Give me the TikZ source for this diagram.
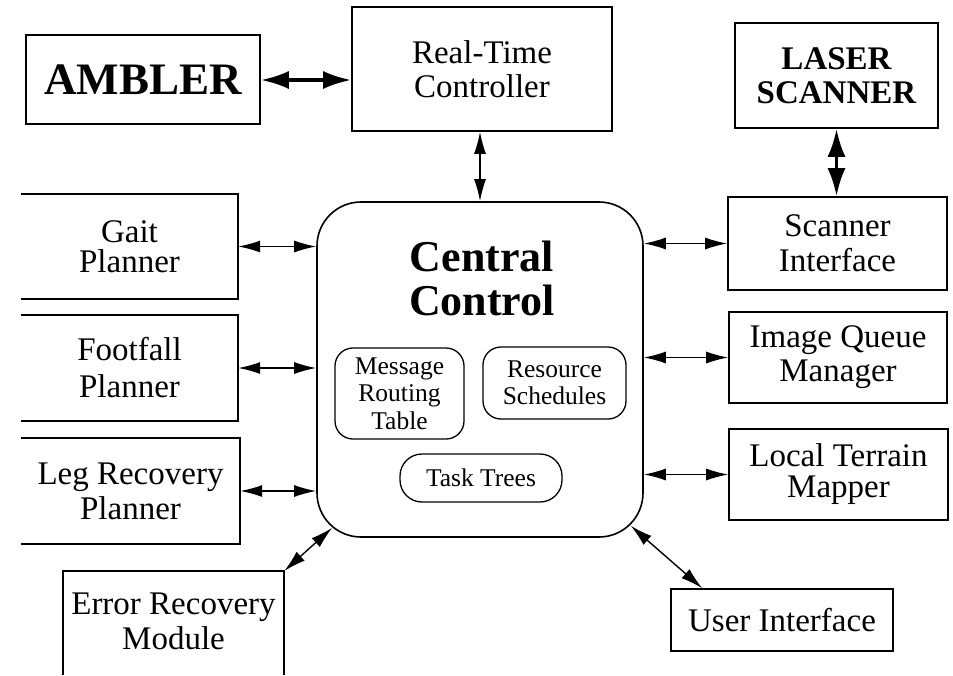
\documentclass[tikz,border=0pt]{standalone}
\usepackage{fontspec}
\setmainfont{Liberation Serif}
\usetikzlibrary{arrows.meta,calc}
\begin{document}
\begin{tikzpicture}[x=1pt,y=-1pt,
  box/.style={draw, line width=1.6pt, inner sep=0pt, align=center,
    font=\fontsize{33}{34}\selectfont},
  openbox/.style={inner sep=0pt, align=center, font=\fontsize{33}{34}\selectfont},
  boldbox/.style={box, font=\fontsize{33}{34}\selectfont\bfseries},
  inbox/.style={draw, line width=1.3pt, rounded corners=18pt, inner sep=0pt,
    align=center, font=\fontsize{25.5}{27.5}\selectfont},
  edge/.style={line width=1.6pt},
  link/.style={line width=1.4pt, {Latex[length=22pt,width=12pt]}-{Latex[length=22pt,width=12pt]}},
  biglink/.style={line width=3.4pt, {Latex[length=28pt,width=18pt]}-{Latex[length=28pt,width=18pt]}}
]
\useasboundingbox (0,0) rectangle (953,675);

% top row
\node[boldbox, font=\fontsize{45}{45}\selectfont\bfseries, minimum width=234pt, minimum height=89pt] (ambler) at (143,79.5) {AMBLER};
\node[box, minimum width=260pt, minimum height=124pt] (rtc) at (482,69) {Real-Time\\Controller};
\node[boldbox, minimum width=203pt, minimum height=105pt] (laser) at (836.5,75.5) {LASER\\SCANNER};

% central control
\node[draw, line width=1.6pt, rounded corners=44pt, minimum width=326pt, minimum height=335pt, inner sep=0pt] (cc) at (480,369.5) {};
\node[inner sep=0pt, align=center, font=\fontsize{44}{44}\selectfont\bfseries] (cctitle) at (482,278) {Central\\Control};
\node[inbox, minimum width=129pt, minimum height=91pt] (mrt) at (399.5,393.5) {Message\\Routing\\Table};
\node[inbox, minimum width=143pt, minimum height=72pt] (rs) at (554.5,383) {Resource\\Schedules};
\node[inbox, rounded corners=22pt, minimum width=162pt, minimum height=48pt] (tt) at (481,478) {Task Trees};

% left column (open on the left)
\node[openbox, minimum width=217pt, minimum height=105pt, font=\fontsize{33}{30}\selectfont] (gait) at (129.5,246.5) {Gait\\Planner};
\node[openbox, minimum width=217pt, minimum height=106pt, font=\fontsize{33}{37}\selectfont] (foot) at (129.5,368) {Footfall\\Planner};
\node[openbox, minimum width=219pt, minimum height=106pt, font=\fontsize{33}{35}\selectfont] (leg) at (130.5,491) {Leg Recovery\\Planner};
\node[openbox, minimum width=221pt, minimum height=104pt, font=\fontsize{33}{35}\selectfont] (err) at (173.5,621) {Error Recovery\\Module};
\foreach \n in {gait,foot,leg}
  \draw[edge] (\n.north west) -- (\n.north east) -- (\n.south east) -- (\n.south west);
\draw[edge] (err.north west |- 0,675) -- (err.north west |- 0,571) -- (err.north east |- 0,571) -- (err.north east |- 0,675);
\coordinate (errc) at (err.north east |- 0,571);

% right column
\node[box, minimum width=219pt, minimum height=93pt, font=\fontsize{33}{35}\selectfont] (si) at (837.5,243.5) {Scanner\\Interface};
\node[box, minimum width=218pt, minimum height=91pt] (iqm) at (838,357.5) {Image Queue\\Manager};
\node[box, minimum width=219pt, minimum height=91pt, font=\fontsize{33}{31}\selectfont] (ltm) at (838.5,474.5) {Local Terrain\\Mapper};
\node[box, minimum width=222pt, minimum height=62pt] (ui) at (782,620) {User Interface};

% connectors
\draw[biglink] (ambler.east |- 0,80) -- (rtc.west |- 0,80);
\draw[link] (cc.north |- rtc.south) -- (cc.north);
\draw[biglink] (laser.south) -- (laser.south |- si.north);
\foreach \n in {gait,foot,leg}
  \draw[link] (\n.east) -- (\n.east -| cc.west);
\foreach \n in {si,iqm,ltm}
  \draw[link] (\n.west) -- (\n.west -| cc.east);
\draw[link] (errc) -- ($(cc.south west)+(16,-10)$);
\draw[link] ($(cc.south east)+(-13,-12)$) -- ($(ui.north west)+(32,0)$);
\end{tikzpicture}
\end{document}
